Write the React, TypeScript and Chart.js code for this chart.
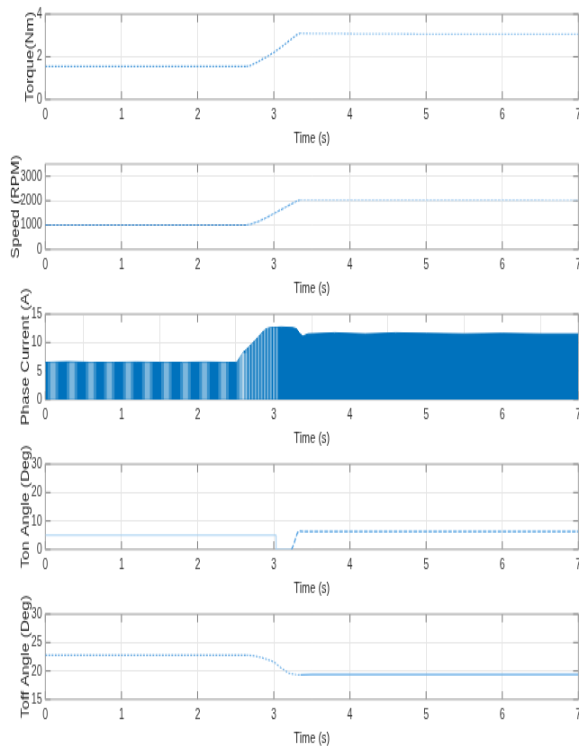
import React, { useEffect, useRef } from 'react';
import { Chart, registerables } from 'chart.js';

Chart.register(...registerables);

// ---------------- data ----------------
const xTicks = [0, 1, 2, 3, 4, 5, 6, 7];
const xTitle = 'Time (s)';

const torqueTime = [0, 1, 2, 2.64, 2.7, 2.8, 2.9, 3.0, 3.1, 3.2, 3.3, 3.34, 4, 5, 6, 7];
const torqueValue = [1.54, 1.54, 1.54, 1.54, 1.6, 1.78, 1.98, 2.2, 2.46, 2.74, 3.02, 3.1, 3.08, 3.06, 3.05, 3.05];
const torqueTicks = [0, 2, 4];
const torqueRange = [0, 4];

const speedTime = [0, 1, 2, 2.64, 2.7, 2.8, 2.9, 3.0, 3.1, 3.2, 3.3, 3.34, 4, 5, 6, 7];
const speedValue = [1000, 1000, 1000, 1000, 1040, 1150, 1300, 1470, 1640, 1810, 1980, 2030, 2030, 2030, 2025, 2020];
const speedTicks = [0, 1000, 2000, 3000];
const speedRange = [0, 3500];

const currentTime = [0, 0.3, 0.6, 0.9, 1.2, 1.5, 1.8, 2.1, 2.4, 2.5, 2.52, 2.55, 2.6, 2.65, 2.7, 2.75, 2.8, 2.85, 2.9, 2.95, 3.1, 3.25, 3.3, 3.34, 3.38, 3.45, 3.8, 4.2, 4.6, 5.0, 5.5, 6.0, 6.5, 7];
const currentEnvelope = [6.5, 6.6, 6.5, 6.5, 6.55, 6.5, 6.5, 6.55, 6.5, 6.5, 6.6, 7.4, 8.3, 8.9, 9.6, 10.3, 11.0, 11.8, 12.4, 12.6, 12.7, 12.6, 12.4, 11.6, 11.1, 11.5, 11.7, 11.5, 11.7, 11.6, 11.5, 11.6, 11.5, 11.5];
const currentBandTime = [0.1, 0.35, 0.6, 0.84, 1.09, 1.34, 1.59, 1.84, 2.09, 2.34, 2.58];
const currentBandHeight = [6.4, 6.4, 6.4, 6.4, 6.4, 6.4, 6.4, 6.4, 6.4, 6.4, 8.0];
const currentCombTime = [2.6, 2.64, 2.68, 2.72, 2.76, 2.8, 2.84, 2.88, 2.92, 2.96, 3.0, 3.04];
const currentCombHeight = [8.3, 8.7, 9.3, 9.9, 10.4, 11.0, 11.6, 12.2, 12.6, 12.6, 12.6, 12.6];
const currentTicks = [0, 5, 10, 15];
const currentRange = [0, 15];

const tonFirstTime = [0, 3.03, 3.03, 3.23];
const tonFirstValue = [5, 5, 0, 0];
const tonSecondTime = [3.23, 3.25, 3.27, 3.29, 3.31, 3.33, 3.4, 4, 5, 6, 7];
const tonSecondValue = [0, 1.0, 2.5, 4.2, 5.8, 6.4, 6.3, 6.3, 6.3, 6.3, 6.3];
const tonTicks = [0, 10, 20, 30];
const tonRange = [0, 30];

const toffTime = [0, 1, 2, 2.64, 2.72, 2.8, 2.9, 3.0, 3.1, 3.2, 3.3, 3.35, 3.5, 4, 5, 6, 7];
const toffValue = [22.8, 22.8, 22.8, 22.8, 22.7, 22.5, 22.1, 21.6, 20.5, 19.6, 19.35, 19.3, 19.4, 19.4, 19.4, 19.4, 19.4];
const toffTicks = [15, 20, 25, 30];
const toffRange = [15, 30];

const yTitles = ['Torque(Nm)', 'Speed (RPM)', 'Phase Current (A)', 'Ton Angle (Deg)', 'Toff Angle (Deg)'];

// ---------------- layout / style ----------------
const W = 579;                 // displayed width
const CW = 643;                // drawing width (compressed to W)
const SX = W / CW;             // horizontal factor
const SY = 1.4;                // vertical stretch
const SLOT = 150;              // displayed height of one subplot slot
const MARGIN = 15;             // extra drawing units above and below each slot
const CANVAS_H = Math.round(SLOT / SY + 2 * MARGIN);
const PLOT_TOP = MARGIN + 14 / SY;
const PLOT_BOTTOM = MARGIN + 99.3 / SY;
const X_AXIS_H = CANVAS_H - MARGIN - PLOT_BOTTOM;
const Y_AXIS_W = 45.3 / SX;
const RIGHT_PAD = CW - 578.4 / SX;
const TICK_LEN = 5.3 / SX;

const SANS = "'Liberation Sans', Arial, sans-serif";
const TICK_TEXT = '#3a3a3a';
const TITLE_TEXT = '#262626';
const GRID = '#e6e6e6';
const BOX = '#a6a6a6';
const TICK_MARK = '#7a7a7a';

const pts = (t: number[], v: number[]) => t.map((x, i) => ({ x, y: v[i] }));

const segColor = (early: string, mid: string, late: string, t1: number, t2: number) => ({
  borderColor: (c: any) => (c.p1.parsed.x <= t1 ? early : c.p0.parsed.x >= t2 ? late : mid),
});

const boxPlugin = {
  id: 'matlabBox',
  beforeDatasetsDraw(chart: any) {
    const { ctx, chartArea: a, scales } = chart;
    const xs = scales.x;
    const ys = scales.y;
    ctx.save();
    ctx.lineWidth = 1;
    ctx.strokeStyle = TICK_MARK;
    ctx.beginPath();
    xs.ticks.forEach((t: any) => {
      const px = xs.getPixelForValue(t.value);
      ctx.moveTo(px, a.bottom);
      ctx.lineTo(px, a.bottom - TICK_LEN);
      ctx.moveTo(px, a.top);
      ctx.lineTo(px, a.top + TICK_LEN);
    });
    ys.ticks.forEach((t: any) => {
      const py = ys.getPixelForValue(t.value);
      ctx.moveTo(a.left, py);
      ctx.lineTo(a.left + TICK_LEN, py);
      ctx.moveTo(a.right, py);
      ctx.lineTo(a.right - TICK_LEN, py);
    });
    ctx.stroke();
    ctx.strokeStyle = BOX;
    ctx.strokeRect(a.left, a.top, a.right - a.left, a.bottom - a.top);
    ctx.restore();
  },
};

type Spec = {
  title: string;
  titleCenter: number; // displayed x of the y-title centre
  range: number[];
  ticks: number[];
  datasets: any[];
};

const specs: Spec[] = [
  {
    title: yTitles[0],
    titleCenter: 30.5,
    range: torqueRange,
    ticks: torqueTicks,
    datasets: [
      {
        data: pts(torqueTime, torqueValue),
        borderWidth: 1.3,
        borderDash: [2, 1.5],
        borderColor: '#3f93d6',
        segment: segColor('#4b9ad9', '#5aa3e0', '#9cc9ef', 2.64, 3.34),
      },
    ],
  },
  {
    title: yTitles[1],
    titleCenter: 16,
    range: speedRange,
    ticks: speedTicks,
    datasets: [
      {
        data: pts(speedTime, speedValue),
        borderWidth: 1.2,
        borderDash: [3, 1],
        borderColor: '#2b7cc4',
        segment: segColor('#2b7cc4', '#6fb0e6', '#bcdaf4', 2.64, 3.34),
      },
    ],
  },
  {
    title: yTitles[2],
    titleCenter: 26,
    range: currentRange,
    ticks: currentTicks,
    datasets: [
      {
        type: 'bar',
        data: pts(currentBandTime, currentBandHeight),
        barThickness: 11,
        grouped: false,
        backgroundColor: 'rgba(255,255,255,0.22)',
        borderWidth: 0,
        order: 0,
      },
      {
        type: 'bar',
        data: pts(currentBandTime, currentBandHeight),
        barThickness: 5,
        grouped: false,
        backgroundColor: 'rgba(255,255,255,0.35)',
        borderWidth: 0,
        order: 0,
      },
      {
        type: 'bar',
        data: pts(currentCombTime, currentCombHeight),
        barThickness: 1.5,
        grouped: false,
        backgroundColor: 'rgba(255,255,255,0.45)',
        borderWidth: 0,
        order: 0,
      },
      {
        data: pts(currentTime, currentEnvelope),
        borderWidth: 1,
        borderColor: '#0072BD',
        backgroundColor: '#0072BD',
        fill: 'origin',
        order: 1,
      },
    ],
  },
  {
    title: yTitles[3],
    titleCenter: 26,
    range: tonRange,
    ticks: tonTicks,
    datasets: [
      {
        data: pts(tonFirstTime, tonFirstValue),
        borderWidth: 1,
        borderColor: '#a6cff0',
      },
      {
        data: pts(tonSecondTime, tonSecondValue),
        borderWidth: 1.3,
        borderDash: [4, 1.5],
        borderColor: '#4c9de0',
      },
    ],
  },
  {
    title: yTitles[4],
    titleCenter: 26,
    range: toffRange,
    ticks: toffTicks,
    datasets: [
      {
        data: pts(toffTime, toffValue),
        borderWidth: 1.2,
        borderDash: [2, 1.5],
        borderColor: '#3d91d8',
        segment: {
          ...segColor('#3d91d8', '#7ab6e8', '#62aae6', 2.64, 3.35),
          borderDash: (c: any) => (c.p0.parsed.x >= 3.35 ? [] : undefined),
        },
      },
    ],
  },
];

const Y_TITLE_SIZE = 12.2;
const Y_TITLE_HALF = (Y_TITLE_SIZE * 1.2) / 2;

function buildConfig(s: Spec): any {
  return {
    type: 'line',
    data: { datasets: s.datasets },
    options: {
      responsive: false,
      animation: false,
      events: [],
      layout: { padding: { left: 0, right: RIGHT_PAD, top: PLOT_TOP, bottom: MARGIN } },
      plugins: { legend: { display: false }, tooltip: { enabled: false } },
      elements: { point: { radius: 0 }, line: { tension: 0 } },
      scales: {
        x: {
          type: 'linear',
          min: xTicks[0],
          max: xTicks[xTicks.length - 1],
          offset: false,
          afterBuildTicks: (sc: any) => {
            sc.ticks = xTicks.map((v) => ({ value: v }));
          },
          ticks: {
            autoSkip: false,
            maxRotation: 0,
            padding: 5,
            color: TICK_TEXT,
            font: { family: SANS, size: 10.8 },
            callback: (v: any) => String(v),
          },
          grid: { color: GRID, drawTicks: false },
          border: { display: false },
          title: {
            display: true,
            text: xTitle,
            color: TITLE_TEXT,
            font: { family: SANS, size: 11 },
            padding: { top: 0, bottom: 1.0 },
          },
          afterFit: (sc: any) => {
            sc.height = X_AXIS_H;
            sc.paddingLeft = 0;
            sc.paddingRight = 0;
          },
        },
        y: {
          type: 'linear',
          min: s.range[0],
          max: s.range[1],
          afterBuildTicks: (sc: any) => {
            sc.ticks = s.ticks.map((v) => ({ value: v }));
          },
          ticks: {
            autoSkip: false,
            padding: 3.5,
            color: TICK_TEXT,
            font: { family: SANS, size: 10.8 },
            callback: (v: any) => String(v),
          },
          grid: { color: GRID, drawTicks: false },
          border: { display: false },
          title: {
            display: true,
            text: s.title,
            color: TITLE_TEXT,
            font: { family: SANS, size: Y_TITLE_SIZE },
            padding: { top: s.titleCenter / SX - Y_TITLE_HALF, bottom: 0 },
          },
          afterFit: (sc: any) => {
            sc.width = Y_AXIS_W;
            sc.paddingTop = 0;
            sc.paddingBottom = 0;
          },
        },
      },
    },
    plugins: [boxPlugin],
  };
}

function Panel({ spec, index }: { spec: Spec; index: number }) {
  const ref = useRef<HTMLCanvasElement>(null);
  useEffect(() => {
    if (!ref.current) return;
    const chart = new Chart(ref.current, buildConfig(spec));
    return () => chart.destroy();
  }, [spec]);
  return (
    <canvas
      ref={ref}
      width={CW}
      height={CANVAS_H}
      style={{
        position: 'absolute',
        left: 0,
        top: index * SLOT - MARGIN * SY,
        width: W + 'px',
        height: CANVAS_H * SY + 'px',
        display: 'block',
      }}
    />
  );
}

export default function App() {
  return (
    <div
      style={{
        position: 'absolute',
        left: 0,
        top: 0,
        width: W,
        height: 749,
        overflow: 'hidden',
        background: '#ffffff',
      }}
    >
      {specs.map((s, i) => (
        <Panel key={i} spec={s} index={i} />
      ))}
    </div>
  );
}
